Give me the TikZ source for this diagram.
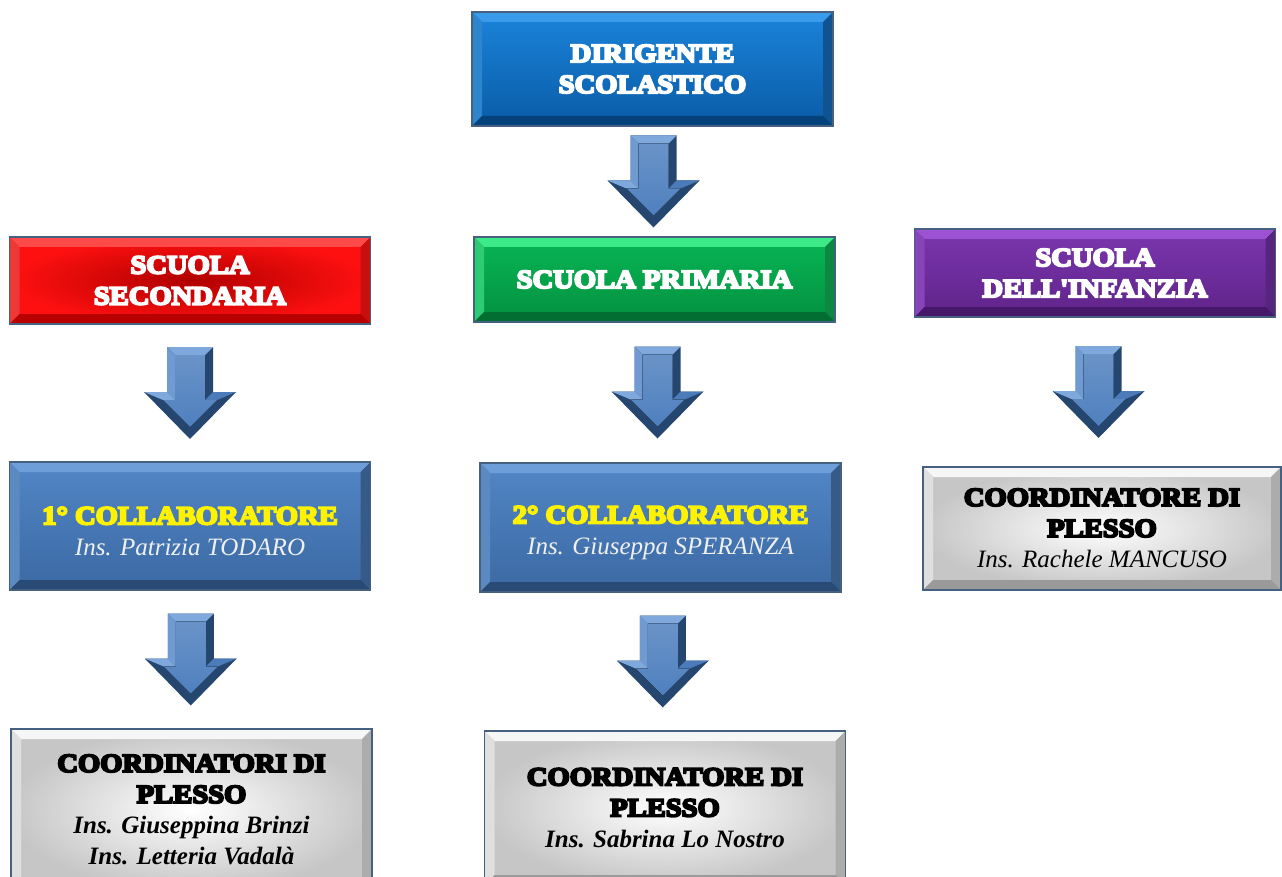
\documentclass[tikz,border=0pt]{standalone}
\usepackage{fontspec}
\setmainfont{Liberation Serif}
\newfontfamily\heavyfont[FakeBold=8,FakeStretch=1.1]{Liberation Serif Bold}
\usetikzlibrary{calc}

% colori
\definecolor{boxline}{HTML}{46617F}
\definecolor{dirtop}{HTML}{1A84DA}
\definecolor{dirbot}{HTML}{0A5BA6}
\definecolor{dirlight}{HTML}{3A9BEA}
\definecolor{dirdark}{HTML}{05417A}
\definecolor{secin}{HTML}{B00000}
\definecolor{secout}{HTML}{FF1010}
\definecolor{seclight}{HTML}{FF4A4A}
\definecolor{secdark}{HTML}{B80000}
\definecolor{pritop}{HTML}{08B556}
\definecolor{pribot}{HTML}{03913F}
\definecolor{prilight}{HTML}{3CEB88}
\definecolor{pridark}{HTML}{036E31}
\definecolor{inftop}{HTML}{7B36AF}
\definecolor{infbot}{HTML}{5F2489}
\definecolor{inflight}{HTML}{9C52D2}
\definecolor{infdark}{HTML}{461869}
\definecolor{coltop}{HTML}{5286C6}
\definecolor{colbot}{HTML}{3B69A3}
\definecolor{collight}{HTML}{6E9EDA}
\definecolor{coldark}{HTML}{284A75}
\definecolor{crdout}{HTML}{C6C6C6}
\definecolor{crdlight}{HTML}{F6F6F6}
\definecolor{crddark}{HTML}{9A9A9A}
\definecolor{arrowdark}{HTML}{24466F}
\definecolor{arrowmid}{HTML}{4B7BB8}
\definecolor{arrowlight}{HTML}{7FA9DD}
\definecolor{arrowin}{HTML}{4F80BE}

\newcommand\heavy{\heavyfont\fontsize{26pt}{31pt}\selectfont}
\newcommand\ins{\rmfamily\mdseries\itshape\fontsize{25pt}{30pt}\selectfont}
\newcommand\insb{\rmfamily\bfseries\itshape\fontsize{25pt}{30pt}\selectfont}

\tikzset{
  bevel/.style 2 args={path picture={
    \fill[#1] (path picture bounding box.north west) -- (path picture bounding box.north east)
      -- ([xshift=-10pt,yshift=-10pt]path picture bounding box.north east)
      -- ([xshift=10pt,yshift=-10pt]path picture bounding box.north west) -- cycle;
    \fill[#1!75!#2] (path picture bounding box.north west) -- (path picture bounding box.south west)
      -- ([xshift=10pt,yshift=10pt]path picture bounding box.south west)
      -- ([xshift=10pt,yshift=-10pt]path picture bounding box.north west) -- cycle;
    \fill[#2!80!#1] (path picture bounding box.north east) -- (path picture bounding box.south east)
      -- ([xshift=-10pt,yshift=10pt]path picture bounding box.south east)
      -- ([xshift=-10pt,yshift=-10pt]path picture bounding box.north east) -- cycle;
    \fill[#2] (path picture bounding box.south west) -- (path picture bounding box.south east)
      -- ([xshift=-10pt,yshift=10pt]path picture bounding box.south east)
      -- ([xshift=10pt,yshift=10pt]path picture bounding box.south west) -- cycle;
  }},
  boxbase/.style={draw=boxline, line width=1.5pt, align=center, inner sep=0pt,
    minimum width=361pt, font=\heavy},
  dirbox/.style={boxbase, top color=dirtop, bottom color=dirbot, bevel={dirlight}{dirdark},
    text=white},
  secbox/.style={boxbase, inner color=secin, outer color=secout, bevel={seclight}{secdark},
    text=white},
  pribox/.style={boxbase, top color=pritop, bottom color=pribot, bevel={prilight}{pridark},
    text=white},
  infbox/.style={boxbase, top color=inftop, bottom color=infbot, bevel={inflight}{infdark},
    text=white},
  colbox/.style={boxbase, top color=coltop, bottom color=colbot, bevel={collight}{coldark}},
  crdbox/.style={boxbase, inner color=white, outer color=crdout, bevel={crdlight}{crddark}}
}

% freccia a blocco tra due nodi
\newcommand\blockarrow[2]{%
  \begin{scope}[shift={($(#1.south)!0.5!(#2.north)$)}]
    \fill[arrowdark] (-23,-46) -- (23,-46) -- (23,-1) -- (46,-1) -- (0,46)
      -- (-46,-1) -- (-23,-1) -- cycle;
    \fill[arrowlight] (-23,-46) -- (23,-46) -- (15,-38) -- (-15,-38) -- cycle;
    \fill[arrowlight!70!arrowmid] (-23,-46) -- (-15,-38) -- (-15,7) -- (-23,-1) -- cycle;
    \fill[arrowlight] (-23,-1) -- (-46,-1) -- (-27,7) -- (-15,7) -- cycle;
    \fill[arrowmid] (23,-1) -- (46,-1) -- (27,7) -- (15,7) -- cycle;
    \fill[top color=arrowin!85!white, bottom color=arrowin] (-15,-38) -- (15,-38) -- (15,7)
      -- (27,7) -- (0,34) -- (-27,7) -- (-15,7) -- cycle;
  \end{scope}}

\begin{document}
\begin{tikzpicture}[x=1pt,y=-1pt]
  \useasboundingbox (0,0) rectangle (1282,877);

  % vertice
  \node[dirbox, minimum height=114pt] (dir) at (652.5,69) {DIRIGENTE\\SCOLASTICO};

  % scuole
  \node[secbox, minimum height=87pt] (sec) at (190,280.5) {SCUOLA\\SECONDARIA};
  \node[pribox, minimum height=85pt] (pri) at (654.5,279.5) {SCUOLA PRIMARIA};
  \node[infbox, minimum height=88pt] (inf) at (1095,273) {SCUOLA\\DELL'INFANZIA};

  % collaboratori
  \node[colbox, minimum height=128pt] (col1) at (190,526)
    {\rule{0pt}{28pt}\color{yellow}1° COLLABORATORE\\\ins\color{white!94!black}Ins. Patrizia TODARO};
  \node[colbox, minimum height=129pt] (col2) at (660.5,527.5)
    {\rule{0pt}{28pt}\color{yellow}2° COLLABORATORE\\\ins\color{white!94!black}Ins. Giuseppa SPERANZA};

  % coordinatori
  \node[crdbox, minimum height=123pt, minimum width=358pt] (crd3) at (1102,528.5)
    {COORDINATORE DI\\PLESSO\\\ins Ins. Rachele MANCUSO};
  \node[crdbox, minimum height=162pt] (crd1) at (191.5,810)
    {COORDINATORI DI\\PLESSO\\\insb Ins. Giuseppina Brinzi\\\insb Ins. Letteria Vadalà};
  \node[crdbox, minimum height=154pt] (crd2) at (665,808)
    {COORDINATORE DI\\PLESSO\\\insb Ins. Sabrina Lo Nostro};

  % frecce
  \blockarrow{dir}{pri}
  \blockarrow{sec}{col1}
  \blockarrow{pri}{col2}
  \blockarrow{inf}{crd3}
  \blockarrow{col1}{crd1}
  \blockarrow{col2}{crd2}
\end{tikzpicture}
\end{document}
